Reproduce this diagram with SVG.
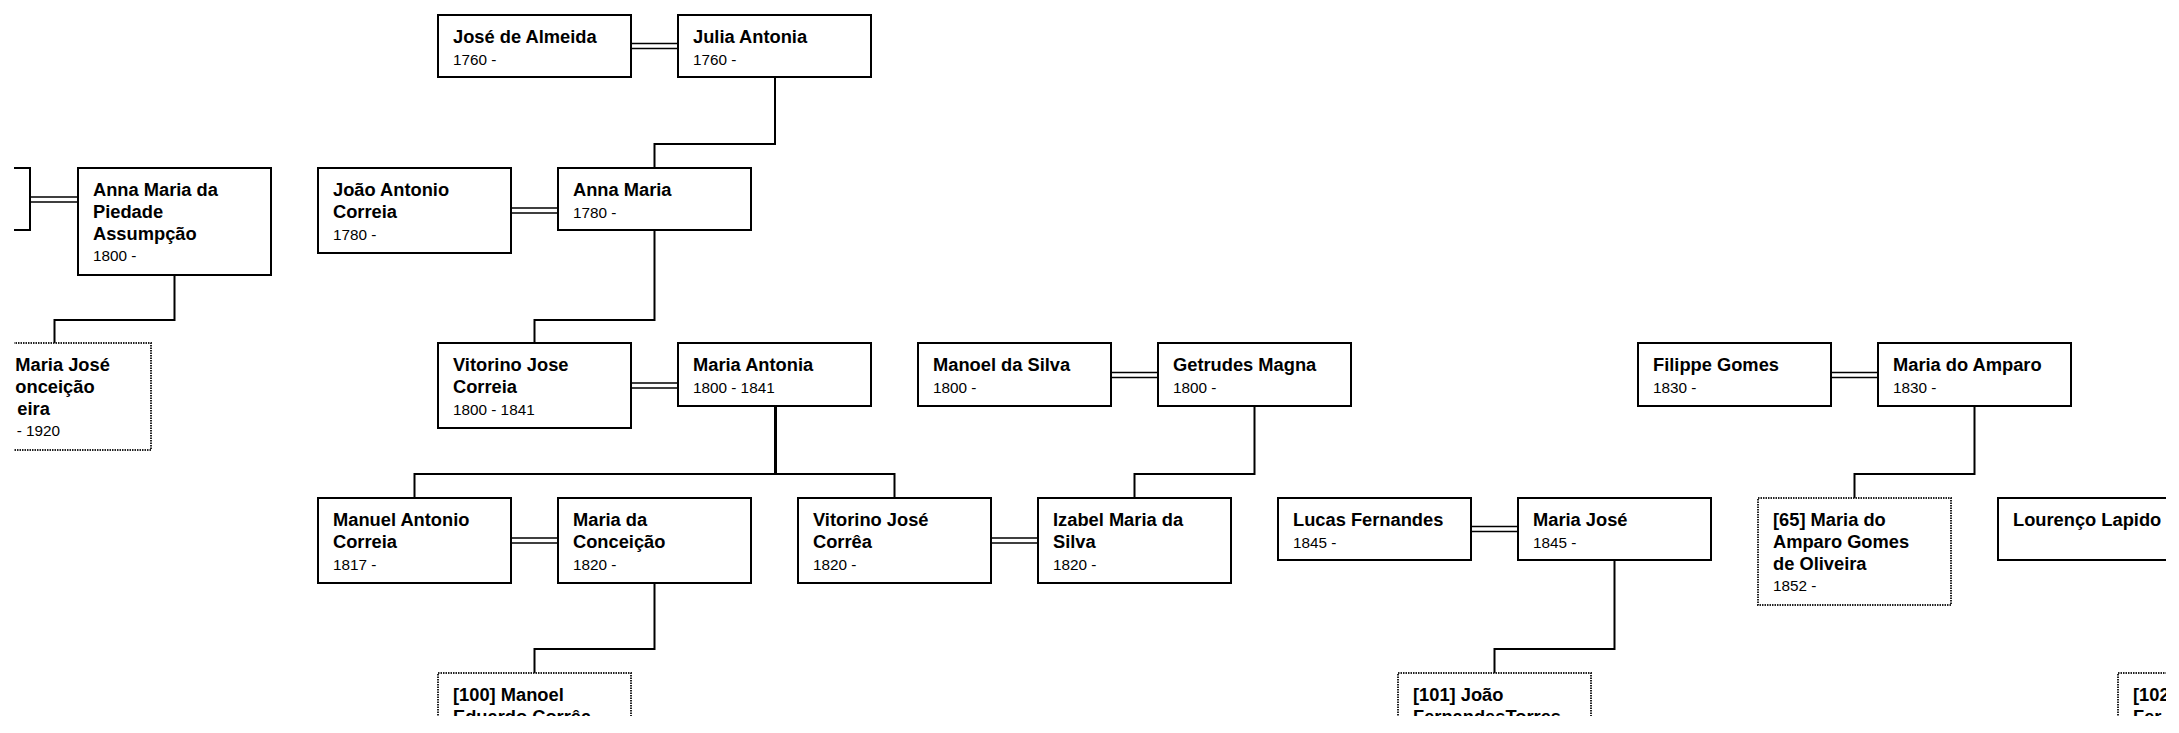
<svg xmlns="http://www.w3.org/2000/svg" width="2179" height="733" viewBox="0 0 2179 733">
<defs>
<style>
.box{fill:#fff;stroke:#000;stroke-width:2}
.dbox{fill:#fff;stroke:#222;stroke-width:2;stroke-dasharray:1.5 1}
.n{font-family:"Liberation Sans",Arial,sans-serif;font-weight:bold;font-size:18.3px;fill:#000}
.d{font-family:"Liberation Sans",Arial,sans-serif;font-size:15.3px;fill:#000}
.c{fill:none;stroke:#000;stroke-width:2}
.m{fill:none;stroke:#000;stroke-width:1.5}
</style>
<clipPath id="view"><rect x="14" y="13" width="2152" height="703"/></clipPath>
</defs>
<rect x="0" y="0" width="2179" height="733" fill="#fff"/>
<g clip-path="url(#view)">
<g id="connectors">
<path class="c" d="M775,77 V144 H654.5 V168"/>
<path class="c" d="M174.5,275 V320 H54.5 V343"/>
<path class="c" d="M654.5,231 V320 H534.5 V343"/>
<path class="c" d="M775,406 V474 H414.5 V498"/>
<path class="c" d="M776,406 V474 H894.5 V498"/>
<path class="c" d="M1254.5,406 V474 H1134.5 V498"/>
<path class="c" d="M1974.5,406 V474 H1854.5 V498"/>
<path class="c" d="M654.5,583 V649 H534.5 V673"/>
<path class="c" d="M1614.5,560 V649 H1494.5 V673"/>
<path class="m" d="M631,43.5 H678 M631,48.5 H678"/>
<path class="m" d="M30,197 H78 M30,202 H78"/>
<path class="m" d="M511,208 H558 M511,213 H558"/>
<path class="m" d="M631,383 H678 M631,388 H678"/>
<path class="m" d="M1111,372.5 H1158 M1111,377.5 H1158"/>
<path class="m" d="M1831,372.5 H1878 M1831,377.5 H1878"/>
<path class="m" d="M511,538 H558 M511,543 H558"/>
<path class="m" d="M991,538 H1038 M991,543 H1038"/>
<path class="m" d="M1471,526.5 H1518 M1471,531.5 H1518"/>
</g>
<g id="jose-de-almeida"><rect class="box" x="438" y="15" width="193" height="62"/><text class="n" x="453" y="43.3">José de Almeida</text><text class="d" x="453" y="65">1760 -</text></g>
<g id="julia-antonia"><rect class="box" x="678" y="15" width="193" height="62"/><text class="n" x="693" y="43.3">Julia Antonia</text><text class="d" x="693" y="65">1760 -</text></g>
<g id="partial-left"><rect class="box" x="-163" y="168" width="193" height="62"/></g>
<g id="anna-maria-da-piedade"><rect class="box" x="78" y="168" width="193" height="107"/><text class="n" x="93" y="196.3">Anna Maria da</text><text class="n" x="93" y="218">Piedade</text><text class="n" x="93" y="239.7">Assumpção</text><text class="d" x="93" y="261.4">1800 -</text></g>
<g id="joao-antonio-correia"><rect class="box" x="318" y="168" width="193" height="85"/><text class="n" x="333" y="196.3">João Antonio</text><text class="n" x="333" y="218">Correia</text><text class="d" x="333" y="239.7">1780 -</text></g>
<g id="anna-maria"><rect class="box" x="558" y="168" width="193" height="62"/><text class="n" x="573" y="196.3">Anna Maria</text><text class="d" x="573" y="218">1780 -</text></g>
<g id="maria-jose-left"><rect class="dbox" x="-42" y="343" width="193" height="107"/><text class="n" x="15.3" y="371.3">Maria José</text><text class="n" x="15.3" y="393">onceição</text><text class="n" x="17.3" y="414.7">eira</text><text class="d" x="16.7" y="436.4">- 1920</text></g>
<g id="vitorino-jose-correia"><rect class="box" x="438" y="343" width="193" height="85"/><text class="n" x="453" y="371.3">Vitorino Jose</text><text class="n" x="453" y="393">Correia</text><text class="d" x="453" y="414.7">1800 - 1841</text></g>
<g id="maria-antonia"><rect class="box" x="678" y="343" width="193" height="63"/><text class="n" x="693" y="371.3">Maria Antonia</text><text class="d" x="693" y="393">1800 - 1841</text></g>
<g id="manoel-da-silva"><rect class="box" x="918" y="343" width="193" height="63"/><text class="n" x="933" y="371.3">Manoel da Silva</text><text class="d" x="933" y="393">1800 -</text></g>
<g id="getrudes-magna"><rect class="box" x="1158" y="343" width="193" height="63"/><text class="n" x="1173" y="371.3">Getrudes Magna</text><text class="d" x="1173" y="393">1800 -</text></g>
<g id="filippe-gomes"><rect class="box" x="1638" y="343" width="193" height="63"/><text class="n" x="1653" y="371.3">Filippe Gomes</text><text class="d" x="1653" y="393">1830 -</text></g>
<g id="maria-do-amparo"><rect class="box" x="1878" y="343" width="193" height="63"/><text class="n" x="1893" y="371.3">Maria do Amparo</text><text class="d" x="1893" y="393">1830 -</text></g>
<g id="manuel-antonio-correia"><rect class="box" x="318" y="498" width="193" height="85"/><text class="n" x="333" y="526.3">Manuel Antonio</text><text class="n" x="333" y="548">Correia</text><text class="d" x="333" y="569.7">1817 -</text></g>
<g id="maria-da-conceicao"><rect class="box" x="558" y="498" width="193" height="85"/><text class="n" x="573" y="526.3">Maria da</text><text class="n" x="573" y="548">Conceição</text><text class="d" x="573" y="569.7">1820 -</text></g>
<g id="vitorino-jose-correa"><rect class="box" x="798" y="498" width="193" height="85"/><text class="n" x="813" y="526.3">Vitorino José</text><text class="n" x="813" y="548">Corrêa</text><text class="d" x="813" y="569.7">1820 -</text></g>
<g id="izabel-maria-da-silva"><rect class="box" x="1038" y="498" width="193" height="85"/><text class="n" x="1053" y="526.3">Izabel Maria da</text><text class="n" x="1053" y="548">Silva</text><text class="d" x="1053" y="569.7">1820 -</text></g>
<g id="lucas-fernandes"><rect class="box" x="1278" y="498" width="193" height="62"/><text class="n" x="1293" y="526.3">Lucas Fernandes</text><text class="d" x="1293" y="548">1845 -</text></g>
<g id="maria-jose"><rect class="box" x="1518" y="498" width="193" height="62"/><text class="n" x="1533" y="526.3">Maria José</text><text class="d" x="1533" y="548">1845 -</text></g>
<g id="p65-maria-do-amparo"><rect class="dbox" x="1758" y="498" width="193" height="107"/><text class="n" x="1773" y="526.3">[65] Maria do</text><text class="n" x="1773" y="548">Amparo Gomes</text><text class="n" x="1773" y="569.7">de Oliveira</text><text class="d" x="1773" y="591.4">1852 -</text></g>
<g id="lourenco-lapido"><rect class="box" x="1998" y="498" width="193" height="62"/><text class="n" x="2013" y="526.3">Lourenço Lapido</text></g>
<g id="p100-manoel"><rect class="dbox" x="438" y="673" width="193" height="107"/><text class="n" x="453" y="701.3">[100] Manoel</text><text class="n" x="453" y="723">Eduardo Corrêa</text></g>
<g id="p101-joao"><rect class="dbox" x="1398" y="673" width="193" height="107"/><text class="n" x="1413" y="701.3">[101] João</text><text class="n" x="1413" y="723">FernandesTorres</text></g>
<g id="p102"><rect class="dbox" x="2118" y="673" width="193" height="107"/><text class="n" x="2133" y="701.3">[102</text><text class="n" x="2133" y="723">Fer</text></g>
</g>
</svg>
